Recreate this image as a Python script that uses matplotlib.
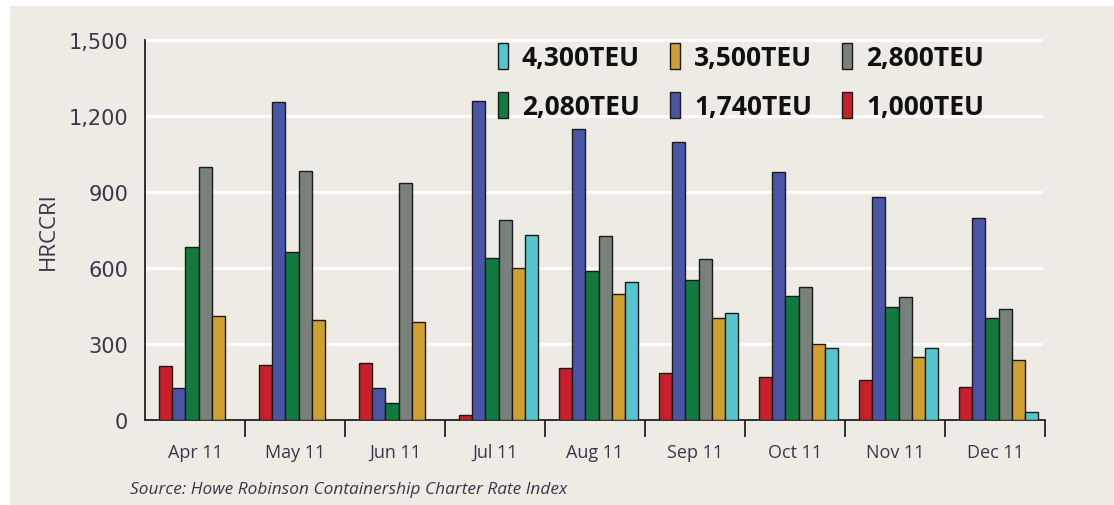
import matplotlib
matplotlib.use("Agg")
import matplotlib.pyplot as plt
from matplotlib.patches import Rectangle
import numpy as np

months = ["Apr 11", "May 11", "Jun 11", "Jul 11", "Aug 11", "Sep 11", "Oct 11", "Nov 11", "Dec 11"]

# HRCCRI index values by vessel class (NaN = no value that month)
teu_1000 = [212, 217, 224, 21, 205, 187, 170, 157, 132]
teu_1740 = [125, 1255, 126, 1261, 1149, 1096, 978, 879, 796]
teu_2080 = [682, 662, 67, 638, 588, 551, 491, 447, 403]
teu_2800 = [998, 984, 936, 791, 725, 636, 526, 484, 438]
teu_3500 = [409, 396, 386, 600, 496, 403, 300, 249, 237]
teu_4300 = [np.nan, np.nan, np.nan, 730, 543, 422, 283, 284, 32]

series_labels = ["1,000TEU", "1,740TEU", "2,080TEU", "2,800TEU", "3,500TEU", "4,300TEU"]
series_values = [teu_1000, teu_1740, teu_2080, teu_2800, teu_3500, teu_4300]
series_colors = ["#c81f2a", "#4a55a6", "#117a3f", "#79817b", "#cfa030", "#55c5d0"]

y_ticks = [0, 300, 600, 900, 1200, 1500]
y_tick_labels = ["0", "300", "600", "900", "1,200", "1,500"]

bg = "#eeebe5"
text_col = "#3b3548"

fig = plt.figure(figsize=(11.14, 5.06), dpi=100)
fig.patch.set_facecolor("white")
fig.patches.append(Rectangle((10 / 1114, 0), 1 - 10 / 1114, 1 - 7 / 506,
                             transform=fig.transFigure, facecolor=bg,
                             edgecolor="none", zorder=-10))

ax = fig.add_axes([145 / 1114, 85 / 506, 900 / 1114, 380 / 506])
ax.set_facecolor(bg)

bar_w = 0.132
start = 0.14
x = np.arange(len(months))
handles = {}
for k, (lab, vals, col) in enumerate(zip(series_labels, series_values, series_colors)):
    b = ax.bar(x + start + k * bar_w, vals, width=bar_w, align="edge",
               color=col, edgecolor="#1a1a1a", linewidth=1.0, zorder=3, label=lab)
    handles[lab] = b

ax.set_xlim(0, len(months))
ax.set_ylim(0, 1500)

# white horizontal gridlines
for yv in y_ticks[1:]:
    ax.plot([0, 8.96], [yv, yv], color="white", linewidth=2, zorder=1, clip_on=False)

ax.set_yticks(y_ticks)
ax.set_yticklabels(y_tick_labels, fontsize=15, color=text_col, family="DejaVu Sans")
ax.tick_params(axis="y", length=0, pad=12)

ax.set_xticks(np.arange(1, len(months) + 1))
ax.set_xticklabels([])
ax.tick_params(axis="x", length=12, width=1.3, color="#222222", direction="out")
ax.set_xticks(x + 0.5, minor=True)
ax.set_xticklabels(months, minor=True, fontsize=13, color=text_col, family="Open Sans")
ax.tick_params(axis="x", which="minor", length=0, pad=16.5)

for s in ["top", "right"]:
    ax.spines[s].set_visible(False)
for s in ["left", "bottom"]:
    ax.spines[s].set_color("#222222")
    ax.spines[s].set_linewidth(1.3)

ax.set_ylabel("HRCCRI", fontsize=16, color=text_col, family="Open Sans")
ax.yaxis.set_label_coords(-(145 - 59) / 900, 0.5)

# legend: two rows of three, reading 4,300 / 3,500 / 2,800 then 2,080 / 1,740 / 1,000
order = ["4,300TEU", "2,080TEU", "3,500TEU", "1,740TEU", "2,800TEU", "1,000TEU"]
leg = ax.legend([handles[o] for o in order], order, ncol=3, loc="upper left",
                bbox_to_anchor=(0.3656, 1.055), frameon=False,
                prop={"family": "Open Sans", "weight": "bold", "size": 19},
                handlelength=0.38, handleheight=1.14, handletextpad=0.53,
                columnspacing=1.14, labelspacing=0.82)
for t in leg.get_texts():
    t.set_color("#111111")

fig.text(130 / 1114, 1 - 490 / 506, "Source: Howe Robinson Containership Charter Rate Index",
         fontsize=12.4, style="italic", color=text_col, family="Open Sans", va="center")

fig.savefig("out.png", dpi=100, facecolor=fig.get_facecolor())
